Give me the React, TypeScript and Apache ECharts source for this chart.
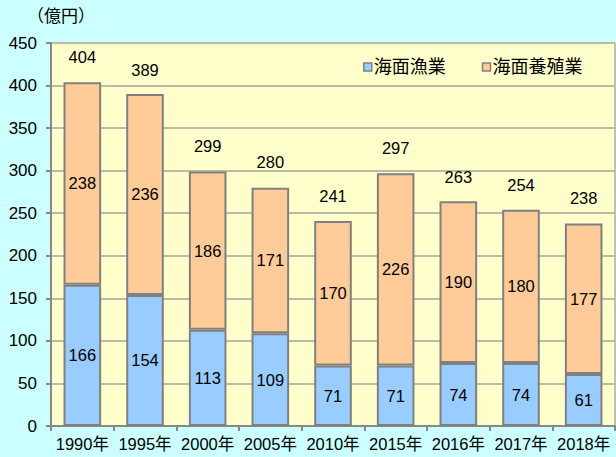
import React, { useEffect, useRef } from "react";
import * as echarts from "echarts";

const categories = ["1990年", "1995年", "2000年", "2005年", "2010年", "2015年", "2016年", "2017年", "2018年"];
const fishery = [166, 154, 113, 109, 71, 71, 74, 74, 61];
const aquaculture = [238, 236, 186, 171, 170, 226, 190, 180, 177];
const totals = [404, 389, 299, 280, 241, 297, 263, 254, 238];

const FONT = "'Liberation Sans', 'Noto Sans CJK JP', sans-serif";

export default function App() {
  const ref = useRef<HTMLDivElement>(null);
  useEffect(() => {
    if (!ref.current) return;
    const chart = echarts.init(ref.current, null, { renderer: "svg" });
    chart.setOption({
      animation: false,
      backgroundColor: "#CCFFFF",
      textStyle: { fontFamily: FONT },
      grid: {
        left: 51,
        right: 1,
        top: 43,
        bottom: 31,
        show: true,
        backgroundColor: "#FFFFCC",
        borderColor: "#888888",
        borderWidth: 1,
      },
      graphic: [
        {
          type: "text",
          left: 27,
          top: 8,
          style: { text: "（億円）", fontSize: 17, fontFamily: FONT, fill: "#000" },
        },
      ],
      legend: {
        left: 358,
        top: 53,
        itemWidth: 8,
        itemHeight: 8,
        itemGap: 36,
        icon: "rect",
        data: ["海面漁業", "海面養殖業"],
        itemStyle: { borderColor: "#808080", borderWidth: 1.5 },
        textStyle: { fontSize: 18, fontFamily: FONT, color: "#000", padding: [0, 0, 0, -3] },
      },
      xAxis: {
        type: "category",
        data: categories,
        axisLine: { lineStyle: { color: "#888888", width: 2 } },
        axisTick: { show: true, length: 5, interval: 0, lineStyle: { color: "#888888", width: 2 } },
        axisLabel: { color: "#000", fontSize: 16.5, margin: 10, interval: 0, fontFamily: FONT },
      },
      yAxis: {
        type: "value",
        min: 0,
        max: 450,
        interval: 50,
        axisLine: { show: true, lineStyle: { color: "#888888", width: 2 } },
        axisTick: { show: true, length: 5, lineStyle: { color: "#888888", width: 2 } },
        axisLabel: { color: "#000", fontSize: 17, margin: 14, fontFamily: FONT },
        splitLine: { lineStyle: { color: "#BBBBAA", width: 2 } },
      },
      series: [
        {
          name: "海面漁業",
          type: "bar",
          stack: "total",
          data: fishery,
          barWidth: "60%",
          itemStyle: { color: "#99CCFF", borderColor: "#808080", borderWidth: 2 },
          label: { show: true, position: "inside", color: "#000", fontSize: 16.5, fontFamily: FONT },
        },
        {
          name: "海面養殖業",
          type: "bar",
          stack: "total",
          data: aquaculture,
          barWidth: "60%",
          itemStyle: { color: "#FFCC99", borderColor: "#808080", borderWidth: 2 },
          label: { show: true, position: "inside", color: "#000", fontSize: 16.5, fontFamily: FONT },
        },
        {
          name: "合計",
          type: "line",
          data: totals,
          symbol: "circle",
          symbolSize: 2,
          showSymbol: true,
          itemStyle: { color: "rgba(0,0,0,0)", borderWidth: 0 },
          lineStyle: { width: 0, color: "rgba(0,0,0,0)" },
          silent: true,
          z: 5,
          label: { show: true, position: "top", distance: 16, color: "#000", fontSize: 16.5, fontFamily: FONT },
        },
      ],
    });
    return () => chart.dispose();
  }, []);
  return <div ref={ref} style={{ width: 616, height: 457, position: "absolute", left: 0, top: 0 }} />;
}
